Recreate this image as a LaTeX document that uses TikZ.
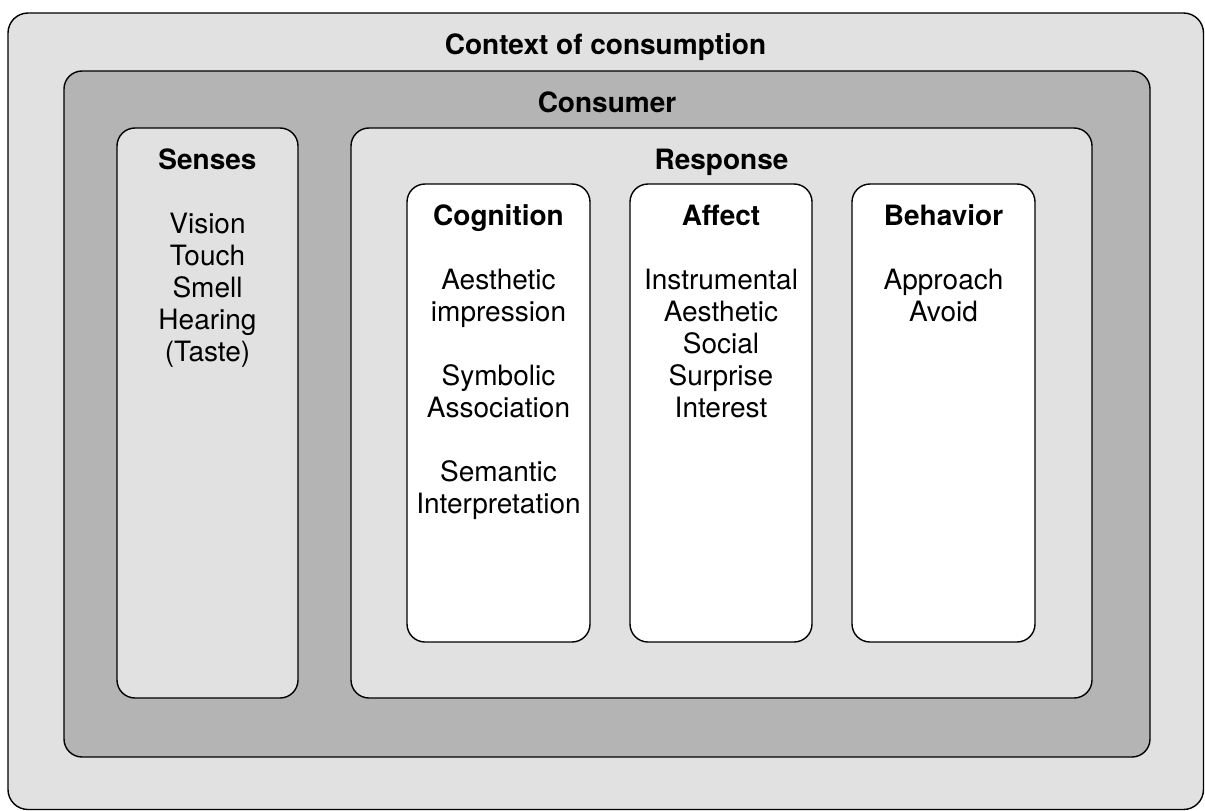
\documentclass[tikz,border=0pt]{standalone}
\usepackage{fontspec}
\setmainfont{TeX Gyre Heros}
\begin{document}
\begin{tikzpicture}[x=1pt,y=-1pt,
  panel/.style={draw=black,line width=1.4pt,rounded corners=18pt},
  outerfill/.style={panel,fill=lightbg},
  midfill/.style={panel,fill=darkbg},
  card/.style={panel,fill=white},
  label/.style={anchor=base,align=center,inner sep=0pt,
    font=\fontsize{28}{32}\selectfont}]
\definecolor{lightbg}{HTML}{E1E1E1}
\definecolor{darkbg}{HTML}{B4B4B4}
\useasboundingbox (0,0) rectangle (1205,811);
% nested boxes
\draw[outerfill,rounded corners=20pt] (8,13) rectangle (1203.5,809.5);
\draw[midfill] (64,71) rectangle (1150,757);
\draw[outerfill] (117,128) rectangle (298,698);
\draw[outerfill] (351,128) rectangle (1092,698);
\draw[card] (407,184) rectangle (590,642);
\draw[card] (630,184) rectangle (812,642);
\draw[card] (852,184) rectangle (1035,642);
% titles and contents (a multi-line node sits on the baseline of its last line)
\node[label] (context) at (605.5,54) {\textbf{Context of consumption}};
\node[label] (consumer) at (607,112) {\textbf{Consumer}};
\node[label] (senses) at (207.5,361) {\textbf{Senses}\\[32pt]Vision\\Touch\\Smell\\Hearing\\(Taste)};
\node[label] (response) at (721.5,169) {\textbf{Response}};
\node[label] (cognition) at (498.5,513) {\textbf{Cognition}\\[32pt]Aesthetic\\impression\\[32pt]Symbolic\\Association\\[32pt]Semantic\\Interpretation};
\node[label] (affect) at (721,417) {\textbf{Affect}\\[32pt]Instrumental\\Aesthetic\\Social\\Surprise\\Interest};
\node[label] (behavior) at (943.5,321) {\textbf{Behavior}\\[32pt]Approach\\Avoid};
\end{tikzpicture}
\end{document}
